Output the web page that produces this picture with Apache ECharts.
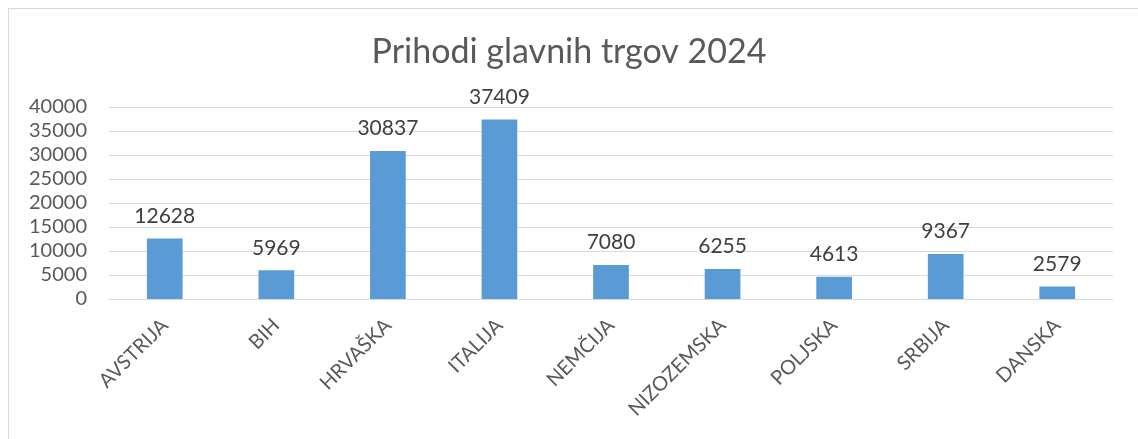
<!DOCTYPE html>
<html>
<head>
<meta charset="utf-8">
<script src="https://cdn.jsdelivr.net/npm/echarts@6/dist/echarts.min.js"></script>
<style>
  html, body { margin: 0; padding: 0; background: #fff; }
  #frame { position: absolute; left: 8px; top: 8px; width: 1140px; height: 440px; border: 1px solid #d9d9d9; box-sizing: border-box; }
  #main { position: absolute; left: 0; top: 0; width: 1138px; height: 439px; }
</style>
</head>
<body>
<div id="frame"></div>
<div id="main"></div>
<script>
// podatki
var drzave = ['AVSTRIJA', 'BIH', 'HRVAŠKA', 'ITALIJA', 'NEMČIJA', 'NIZOZEMSKA', 'POLJSKA', 'SRBIJA', 'DANSKA'];
var prihodi = [12628, 5969, 30837, 37409, 7080, 6255, 4613, 9367, 2579];
var yTicks = [0, 5000, 10000, 15000, 20000, 25000, 30000, 35000, 40000];

var myChart = echarts.init(document.getElementById('main'));

var option = {
  animation: false,
  textStyle: { fontFamily: 'Lato' },
  title: {
    text: 'Prihodi glavnih trgov 2024',
    left: 'center',
    top: 30,
    textStyle: { fontSize: 34, fontWeight: 'normal', color: '#595959', fontFamily: 'Lato' }
  },
  grid: { left: 109, right: 25, top: 107, bottom: 140, containLabel: false },
  xAxis: {
    type: 'category',
    data: drzave,
    axisLine: { lineStyle: { color: '#d9d9d9', width: 1 } },
    axisTick: { show: false },
    axisLabel: { rotate: 45, fontSize: 20, color: '#595959', margin: 23 }
  },
  yAxis: {
    type: 'value',
    min: yTicks[0],
    max: yTicks[yTicks.length - 1],
    interval: 5000,
    axisLine: { show: false },
    axisTick: { show: false },
    splitLine: { lineStyle: { color: '#d9d9d9', width: 1 } },
    axisLabel: { fontSize: 20, color: '#595959', margin: 22, formatter: function (v) { return String(v); } }
  },
  series: [{
    type: 'bar',
    data: prihodi,
    barWidth: '32%',
    itemStyle: { color: '#5b9bd5' },
    label: { show: true, position: 'top', distance: 12, fontSize: 21, color: '#404040' }
  }]
};

myChart.setOption(option);
</script>
</body>
</html>
